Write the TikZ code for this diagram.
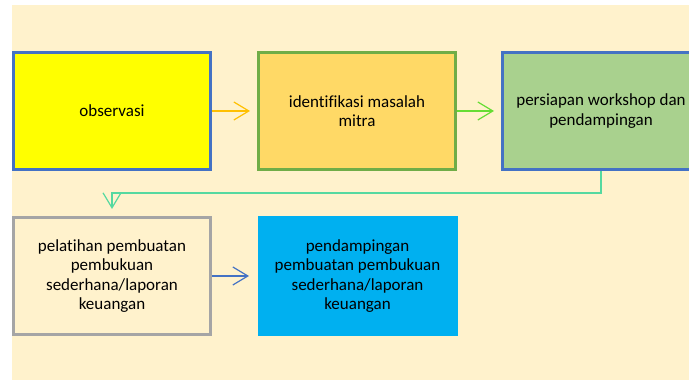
\documentclass[tikz,border=0pt]{standalone}
\usepackage{fontspec}
\setmainfont[Ligatures=NoCommon]{Carlito}
\usepackage{tikz}
\usetikzlibrary{arrows.meta,positioning}
\definecolor{bgcream}{HTML}{FFF2CC}
\definecolor{ofyellow}{HTML}{FFFF00}
\definecolor{ofblue}{HTML}{4472C4}
\definecolor{ofgreen}{HTML}{70AD47}
\definecolor{ofgold}{HTML}{FFD966}
\definecolor{oflime}{HTML}{A9D18E}
\definecolor{ofgray}{HTML}{A5A5A5}
\definecolor{ofcyan}{HTML}{00B0F0}
\definecolor{arorange}{HTML}{FFC000}
\definecolor{argreen}{HTML}{66DD33}
\definecolor{arteal}{HTML}{55D9A0}
\tikzset{
	stepbox/.style={draw,line width=3pt,minimum width=197pt,minimum height=117pt,
		align=center,inner sep=0pt,font=\fontsize{17}{19.5}\selectfont},
	plainbox/.style={stepbox,draw=none,minimum width=200pt,minimum height=120pt},
	ar/.style={-{Straight Barb[length=15pt,width=18pt]},line width=1.2pt,shorten >=7pt}
}

\begin{document}
\begin{tikzpicture}[x=1pt,y=1pt,node distance=45pt and 45pt]
      \useasboundingbox (0,0) rectangle (689,380);
      \fill[bgcream] (12,-5) rectangle (695,375);
      \node [stepbox,fill=ofyellow,draw=ofblue] (obs) at (112,269) {observasi};
      \node [stepbox,fill=ofgold,draw=ofgreen,right=of obs] (ident) {identifikasi masalah\\mitra};
      \node [stepbox,fill=oflime,draw=ofblue,right=44pt of ident] (persiap) {persiapan workshop dan\\pendampingan};
      \node [stepbox,fill=bgcream,draw=ofgray,below=of obs] (pelat) {pelatihan pembuatan\\pembukuan\\sederhana/laporan\\keuangan};
      \node [plainbox,fill=ofcyan,right=44pt of pelat] (pendamp) {pendampingan\\pembuatan pembukuan\\sederhana/laporan\\keuangan};
      \draw [ar,arorange] (obs) -- (ident);
      \draw [ar,argreen] (ident) -- (persiap);
      \draw [ar,arteal] (persiap.south) -- ++(0,-22) -| (pelat.north);
      \draw [ar,ofblue] (pelat) -- (pendamp);
   \end{tikzpicture}
\end{document}
